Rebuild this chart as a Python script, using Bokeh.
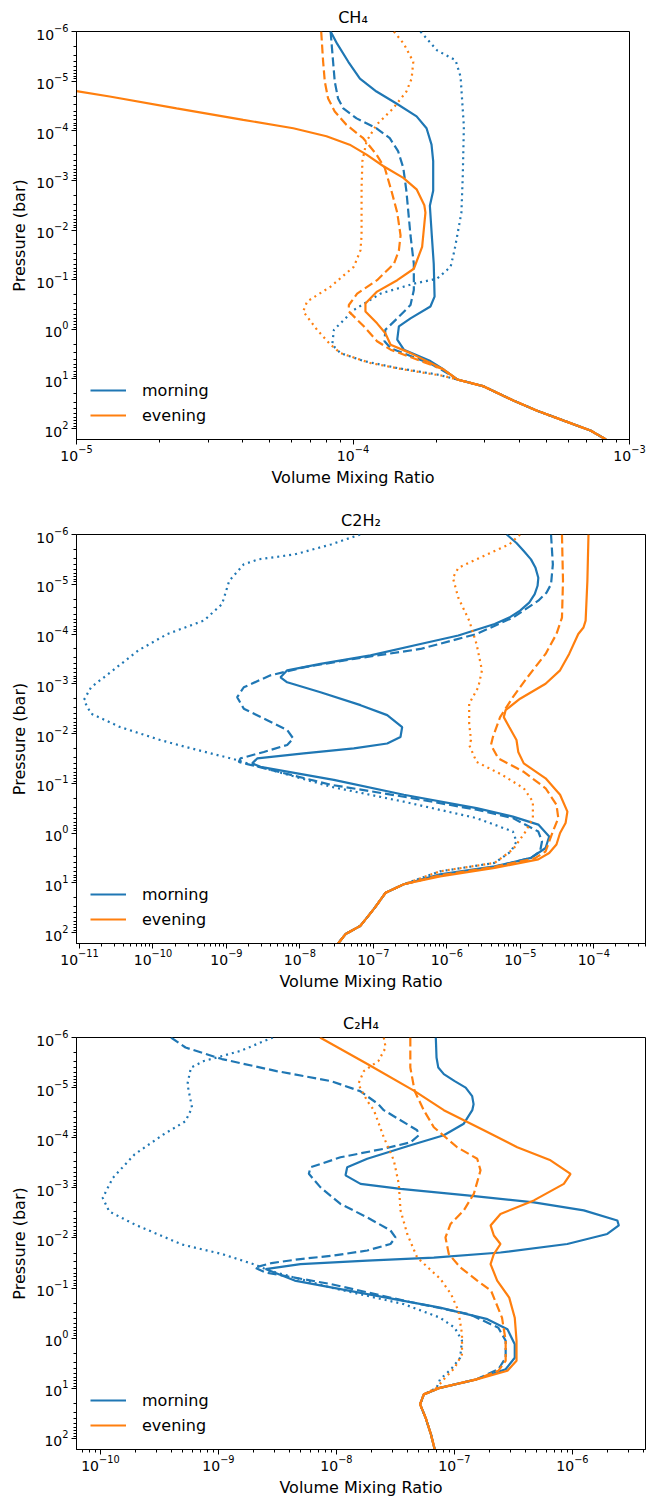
import numpy as np
from bokeh.plotting import figure
from bokeh.models import Range1d, FixedTicker, LogTickFormatter
from bokeh.layouts import column
from bokeh.embed import file_html
from bokeh.resources import INLINE

# ---------------- data (log10 pressure [bar], log10 volume mixing ratio) ----------------
# CH4
ch4_morning_solid_logp = [-6.0, -5.75, -5.39, -5.05, -4.79, -4.55, -4.29, -4.05, -3.72, -3.39, -2.79, -2.49, -1.89, -1.32, -0.66, -0.46, -0.22, -0.06, 0.21, 0.41, 0.64, 0.81]
ch4_morning_solid_logx = [-4.081, -4.057, -4.017, -3.975, -3.915, -3.843, -3.77, -3.734, -3.716, -3.71, -3.71, -3.722, -3.715, -3.708, -3.705, -3.72, -3.792, -3.834, -3.84, -3.816, -3.72, -3.672]
ch4_morning_dashed_logp = [-6.0, -5.39, -4.99, -4.65, -4.45, -4.25, -4.05, -3.85, -3.59, -3.25, -2.79, -1.89, -1.32, -0.79, -0.49, -0.22, 0.01, 0.24, 0.38, 0.68, 0.83]
ch4_morning_dashed_logx = [-4.081, -4.072, -4.066, -4.054, -4.035, -3.987, -3.915, -3.867, -3.837, -3.818, -3.807, -3.792, -3.78, -3.78, -3.792, -3.84, -3.883, -3.886, -3.864, -3.725, -3.675]
ch4_morning_dotted_logp = [-6.0, -5.62, -5.42, -5.09, -4.09, -3.09, -2.35, -1.89, -1.59, -1.26, -1.02, -0.92, -0.72, -0.39, 0.01, 0.31, 0.48, 0.64, 0.78, 0.91]
ch4_morning_dotted_logx = [-3.756, -3.696, -3.629, -3.611, -3.599, -3.603, -3.608, -3.623, -3.633, -3.647, -3.696, -3.78, -3.90, -3.997, -4.069, -4.075, -4.045, -3.961, -3.84, -3.696]
ch4_evening_solid_logp = [-4.80, -4.69, -4.45, -4.22, -4.05, -3.89, -3.72, -3.52, -3.29, -3.05, -2.82, -2.50, -2.35, -1.89, -1.66, -1.22, -0.99, -0.76, -0.52, -0.36, -0.12, 0.08, 0.31, 0.48, 0.81]
ch4_evening_solid_logx = [-5.0, -4.88, -4.638, -4.397, -4.216, -4.096, -4.012, -3.951, -3.891, -3.818, -3.77, -3.742, -3.738, -3.746, -3.75, -3.78, -3.84, -3.913, -3.955, -3.955, -3.913, -3.883, -3.864, -3.792, -3.672]
ch4_evening_dashed_logp = [-6.0, -5.39, -4.99, -4.65, -4.39, -4.12, -3.85, -3.52, -3.25, -2.79, -2.35, -1.89, -1.59, -1.32, -0.99, -0.72, -0.49, -0.36, -0.06, 0.24, 0.41, 0.81]
ch4_evening_dashed_logx = [-4.115, -4.108, -4.102, -4.09, -4.066, -4.024, -3.963, -3.915, -3.885, -3.861, -3.84, -3.828, -3.834, -3.852, -3.913, -3.985, -4.015, -4.015, -3.961, -3.913, -3.864, -3.672]
ch4_evening_dotted_logp = [-6.0, -5.75, -5.39, -5.05, -4.79, -4.45, -4.12, -3.79, -3.39, -2.85, -1.89, -1.59, -1.26, -0.86, -0.56, -0.36, 0.01, 0.31, 0.48, 0.68, 0.81, 0.94]
ch4_evening_dotted_logx = [-3.852, -3.816, -3.782, -3.788, -3.807, -3.855, -3.915, -3.951, -3.966, -3.969, -3.969, -3.973, -3.997, -4.081, -4.166, -4.18, -4.13, -4.081, -4.045, -3.937, -3.816, -3.672]
ch4_deep_logp = [1.01, 1.15, 1.44, 1.64, 1.84, 2.04, 2.22]
ch4_deep_logx = [-3.623, -3.527, -3.418, -3.334, -3.238, -3.141, -3.085]

# C2H2
c2h2_morning_solid_logp = [-6.0, -5.83, -5.67, -5.5, -5.33, -5.13, -4.97, -4.80, -4.63, -4.47, -4.33, -4.20, -3.97, -3.80, -3.57, -3.40, -3.27, -3.13, -3.03, -2.83, -2.57, -2.37, -2.13, -1.93, -1.80, -1.70, -1.60, -1.50, -1.40, -1.33, -1.07, -0.77, -0.50, -0.33, -0.17, 0.07, 0.30, 0.50, 0.67, 0.83]
c2h2_morning_solid_logx = [-5.185, -5.052, -4.953, -4.855, -4.793, -4.755, -4.765, -4.804, -4.879, -5.003, -5.151, -5.349, -5.844, -6.359, -7.039, -7.72, -8.173, -8.264, -8.173, -7.72, -7.175, -6.812, -6.608, -6.631, -6.812, -7.266, -7.947, -8.581, -8.649, -8.536, -7.539, -6.586, -5.596, -5.101, -4.755, -4.607, -4.656, -4.855, -5.349, -6.092]
c2h2_morning_dashed_logp = [-6.0, -5.40, -5.0, -4.83, -4.67, -4.33, -4.0, -3.70, -3.50, -3.33, -3.17, -2.93, -2.73, -2.50, -2.30, -2.07, -1.90, -1.77, -1.63, -1.50, -1.43, -1.37, -0.97, -0.73, -0.47, -0.30, -0.03, 0.17, 0.37, 0.50, 0.68, 0.85]
c2h2_morning_dashed_logx = [-4.582, -4.557, -4.582, -4.644, -4.755, -5.101, -5.596, -6.359, -7.266, -7.947, -8.40, -8.764, -8.854, -8.764, -8.491, -8.173, -8.091, -8.173, -8.491, -8.809, -8.832, -8.673, -7.577, -6.586, -5.596, -5.101, -4.755, -4.705, -4.731, -4.855, -5.349, -6.092]
c2h2_morning_dotted_logp = [-6.0, -5.8, -5.6, -5.5, -5.4, -5.07, -4.6, -4.27, -4.0, -3.67, -3.27, -2.93, -2.67, -2.40, -2.13, -1.87, -1.73, -1.47, -1.40, -0.93, -0.63, -0.30, -0.03, 0.17, 0.37, 0.60, 0.77]
c2h2_morning_dotted_logx = [-7.181, -7.577, -8.071, -8.566, -8.764, -8.962, -9.06, -9.308, -9.804, -10.2, -10.545, -10.843, -10.941, -10.843, -10.447, -9.903, -9.556, -8.863, -8.715, -7.577, -6.586, -5.596, -5.101, -5.052, -5.127, -5.349, -6.092]
c2h2_evening_solid_logp = [-6.0, -5.07, -4.27, -4.13, -4.0, -3.6, -3.27, -3.0, -2.70, -2.47, -2.33, -2.13, -1.87, -1.63, -1.40, -1.10, -0.77, -0.43, -0.20, 0.0, 0.23, 0.40, 0.53, 0.70, 0.87]
c2h2_evening_solid_logx = [-4.072, -4.087, -4.111, -4.14, -4.211, -4.335, -4.459, -4.656, -5.003, -5.2, -5.225, -5.151, -5.052, -5.028, -4.953, -4.656, -4.459, -4.359, -4.384, -4.459, -4.508, -4.607, -4.755, -5.349, -6.092]
c2h2_evening_dashed_logp = [-6.0, -5.07, -4.33, -4.0, -3.6, -3.13, -2.73, -2.33, -1.93, -1.77, -1.5, -1.23, -0.9, -0.57, -0.3, -0.03, 0.17, 0.37, 0.51, 0.68, 0.85]
c2h2_evening_dashed_logx = [-4.433, -4.419, -4.433, -4.508, -4.656, -4.904, -5.101, -5.275, -5.373, -5.399, -5.3, -4.953, -4.656, -4.508, -4.483, -4.557, -4.607, -4.656, -4.804, -5.349, -6.092]
c2h2_evening_dotted_logp = [-6.0, -5.8, -5.57, -5.33, -5.13, -4.73, -4.27, -3.8, -3.27, -2.93, -2.6, -2.2, -1.87, -1.77, -1.43, -1.17, -0.9, -0.63, -0.3, -0.03, 0.23, 0.33, 0.6, 0.77]
c2h2_evening_dotted_logx = [-5.003, -5.151, -5.497, -5.844, -5.918, -5.844, -5.696, -5.596, -5.522, -5.572, -5.696, -5.696, -5.671, -5.696, -5.596, -5.249, -4.953, -4.829, -4.829, -4.928, -5.052, -5.101, -5.349, -6.092]
c2h2_deep_logp = [1.03, 1.20, 1.50, 1.65, 1.87, 2.03, 2.22]
c2h2_deep_logx = [-6.586, -6.834, -6.98, -7.06, -7.181, -7.378, -7.48]

# C2H4
c2h4_morning_solid_logp = [-6.0, -5.6, -5.4, -5.27, -5.13, -5.0, -4.83, -4.67, -4.55, -4.28, -4.05, -3.85, -3.58, -3.41, -3.25, -3.08, -2.98, -2.85, -2.71, -2.55, -2.35, -2.25, -2.08, -1.88, -1.71, -1.61, -1.55, -1.48, -1.38, -1.15, -0.88, -0.61, -0.38, -0.18, 0.12, 0.39, 0.62, 0.82, 0.99]
c2h4_morning_solid_logx = [-7.158, -7.152, -7.137, -7.09, -6.998, -6.905, -6.85, -6.838, -6.849, -6.921, -7.09, -7.372, -7.739, -7.909, -7.923, -7.796, -7.457, -6.892, -6.327, -5.904, -5.62, -5.607, -5.705, -6.044, -6.61, -7.175, -7.739, -8.305, -8.601, -8.354, -7.738, -7.122, -6.721, -6.551, -6.489, -6.489, -6.566, -6.813, -7.122]
c2h4_morning_dashed_logp = [-6.0, -5.8, -5.57, -5.33, -5.13, -4.93, -4.67, -4.55, -4.15, -4.05, -3.91, -3.78, -3.61, -3.41, -3.28, -3.01, -2.68, -2.41, -2.15, -2.01, -1.88, -1.75, -1.65, -1.58, -1.50, -1.41, -1.31, -1.08, -0.75, -0.48, -0.21, 0.05, 0.39, 0.62, 0.82, 0.99]
c2h4_morning_dashed_logx = [-9.402, -9.279, -8.97, -8.508, -8.046, -7.8, -7.645, -7.599, -7.316, -7.302, -7.372, -7.599, -7.966, -8.22, -8.234, -8.135, -7.966, -7.739, -7.542, -7.5, -7.542, -7.739, -8.023, -8.305, -8.55, -8.693, -8.601, -8.046, -7.429, -6.875, -6.628, -6.566, -6.566, -6.628, -6.813, -7.122]
c2h4_morning_dotted_logp = [-6.0, -5.73, -5.53, -5.4, -5.07, -4.6, -4.33, -4.07, -3.67, -3.2, -2.8, -2.53, -2.27, -1.87, -1.68, -1.47, -1.35, -1.01, -0.68, -0.41, -0.21, 0.05, 0.39, 0.62, 0.82, 0.99]
c2h4_morning_dotted_logx = [-8.539, -8.817, -9.124, -9.233, -9.263, -9.224, -9.279, -9.463, -9.71, -9.895, -9.981, -9.926, -9.71, -9.309, -8.97, -8.693, -8.57, -8.046, -7.429, -7.122, -6.998, -6.936, -6.952, -7.029, -7.122, -7.152]
c2h4_evening_solid_logp = [-6.0, -5.47, -4.93, -4.55, -4.15, -3.81, -3.55, -3.28, -3.08, -2.75, -2.48, -2.25, -2.05, -1.88, -1.68, -1.48, -1.15, -0.81, -0.41, 0.05, 0.45, 0.65, 0.82, 0.99]
c2h4_evening_solid_logx = [-8.139, -7.738, -7.337, -7.09, -6.751, -6.468, -6.186, -6.016, -6.073, -6.327, -6.61, -6.694, -6.666, -6.61, -6.666, -6.694, -6.638, -6.536, -6.489, -6.474, -6.474, -6.551, -6.813, -7.122]
c2h4_evening_dashed_logp = [-6.0, -5.4, -4.93, -4.55, -4.21, -3.81, -3.58, -3.35, -2.88, -2.55, -2.28, -2.01, -1.68, -1.41, -1.15, -0.95, -0.41, 0.05, 0.45, 0.65, 0.82, 0.99]
c2h4_evening_dashed_logx = [-7.374, -7.374, -7.337, -7.26, -7.175, -6.977, -6.807, -6.779, -6.836, -6.921, -7.033, -7.076, -7.048, -6.949, -6.807, -6.69, -6.597, -6.566, -6.566, -6.628, -6.813, -7.122]
c2h4_evening_dotted_logp = [-6.0, -5.8, -5.53, -5.33, -5.07, -4.73, -4.55, -4.01, -3.55, -3.08, -2.55, -2.08, -1.61, -1.18, -0.88, -0.55, -0.08, 0.32, 0.59, 0.82, 0.99]
c2h4_evening_dotted_logx = [-7.599, -7.583, -7.645, -7.768, -7.815, -7.738, -7.683, -7.599, -7.514, -7.472, -7.457, -7.4, -7.316, -7.118, -7.029, -6.967, -6.936, -6.936, -6.998, -7.09, -7.152]
c2h4_deep_logp = [1.12, 1.32, 1.59, 1.92, 2.22]
c2h4_deep_logx = [-7.26, -7.291, -7.244, -7.199, -7.167]

panel_titles = ["CH\u2084", "C2H\u2082", "C\u2082H\u2084"]
x_label = "Volume Mixing Ratio"
y_label = "Pressure (bar)"
legend_labels = ["morning", "evening"]

# ---------------- styling ----------------
BLUE = "#1f77b4"
ORANGE = "#ff7f0e"
FONT = "DejaVu Sans"
DASHES = {"solid": "solid", "dashed": "9 4", "dotted": "2 4"}


def decade_ticks(lo, hi):
    return [10.0 ** e for e in range(lo, hi + 1)]


def minor_ticks(lo, hi, vmin, vmax):
    out = [m * 10.0 ** e for e in range(lo, hi + 1) for m in range(2, 10)]
    return [t for t in out if vmin <= t <= vmax]


def make_panel(title, x_start, x_end, major_lo, major_hi, height, b_right, b_bottom, curves, deep):
    y_bottom = 10 ** 2.22
    p = figure(width=646, height=height, x_axis_type="log", y_axis_type="log",
               x_range=Range1d(x_start, x_end), y_range=Range1d(y_bottom, 1e-6),
               output_backend="svg", toolbar_location=None,
               min_border_left=76, min_border_right=b_right, min_border_top=29,
               min_border_bottom=b_bottom, title=title)
    p.frame_align = False
    p.title.align = "center"
    p.title.text_font = FONT
    p.title.text_font_size = "16px"
    p.title.text_font_style = "normal"
    p.title.text_color = "black"
    p.title.standoff = 10
    p.xgrid.visible = False
    p.ygrid.visible = False
    p.outline_line_color = "black"
    p.outline_line_width = 1
    p.outline_line_alpha = 1
    p.background_fill_color = "white"
    p.border_fill_color = "white"

    p.xaxis.ticker = FixedTicker(ticks=decade_ticks(major_lo, major_hi),
                                 minor_ticks=minor_ticks(major_lo - 1, major_hi, x_start, x_end))
    p.yaxis.ticker = FixedTicker(ticks=decade_ticks(-6, 2),
                                 minor_ticks=minor_ticks(-6, 2, 1e-6, y_bottom))
    for ax in (p.xaxis, p.yaxis):
        ax.formatter = LogTickFormatter()
        ax.major_label_text_font = FONT
        ax.major_label_text_font_size = "14px"
        ax.major_label_text_color = "black"
        ax.axis_label_text_font = FONT
        ax.axis_label_text_font_size = "16px"
        ax.axis_label_text_font_style = "normal"
        ax.axis_label_text_color = "black"
        ax.axis_line_color = "black"
        ax.major_tick_line_color = "black"
        ax.minor_tick_line_color = "black"
        ax.major_tick_in = 0
        ax.major_tick_out = 5
        ax.minor_tick_in = 0
        ax.minor_tick_out = 3
        ax.axis_label_standoff = 4
    p.xaxis.major_label_standoff = 0
    p.yaxis.major_label_standoff = 3
    p.xaxis.axis_label = x_label
    p.yaxis.axis_label = y_label

    for color, label, group in zip([BLUE, ORANGE], legend_labels, curves):
        for style, (lp, lx) in group.items():
            lps = list(lp) + list(deep[0])
            lxs = list(lx) + list(deep[1])
            kw = dict(line_color=color, line_width=2.2, line_dash=DASHES[style], line_cap="butt")
            if style == "solid":
                kw["legend_label"] = label
            p.line(np.power(10.0, lxs), np.power(10.0, lps), **kw)

    lg = p.legend[0]
    lg.location = "bottom_left"
    lg.border_line_alpha = 0
    lg.background_fill_alpha = 0
    lg.label_text_font = FONT
    lg.label_text_font_size = "16px"
    lg.label_text_color = "black"
    lg.glyph_width = 36
    lg.glyph_height = 20
    lg.label_standoff = 16
    lg.spacing = 5
    lg.margin = 8
    lg.padding = 6
    return p


p1 = make_panel(panel_titles[0], 1e-5, 1e-3, -5, -3, 503, 17, 64,
                [{"solid": (ch4_morning_solid_logp, ch4_morning_solid_logx),
                  "dashed": (ch4_morning_dashed_logp, ch4_morning_dashed_logx),
                  "dotted": (ch4_morning_dotted_logp, ch4_morning_dotted_logx)},
                 {"solid": (ch4_evening_solid_logp, ch4_evening_solid_logx),
                  "dashed": (ch4_evening_dashed_logp, ch4_evening_dashed_logx),
                  "dotted": (ch4_evening_dotted_logp, ch4_evening_dotted_logx)}],
                (ch4_deep_logp, ch4_deep_logx))

p2 = make_panel(panel_titles[1], 10 ** -11.041, 10 ** -3.296, -11, -4, 503, 1, 63,
                [{"solid": (c2h2_morning_solid_logp, c2h2_morning_solid_logx),
                  "dashed": (c2h2_morning_dashed_logp, c2h2_morning_dashed_logx),
                  "dotted": (c2h2_morning_dotted_logp, c2h2_morning_dotted_logx)},
                 {"solid": (c2h2_evening_solid_logp, c2h2_evening_solid_logx),
                  "dashed": (c2h2_evening_dashed_logp, c2h2_evening_dashed_logx),
                  "dotted": (c2h2_evening_dotted_logp, c2h2_evening_dotted_logx)}],
                (c2h2_deep_logp, c2h2_deep_logx))

p3 = make_panel(panel_titles[2], 10 ** -10.203, 10 ** -5.381, -10, -6, 493, 1, 50,
                [{"solid": (c2h4_morning_solid_logp, c2h4_morning_solid_logx),
                  "dashed": (c2h4_morning_dashed_logp, c2h4_morning_dashed_logx),
                  "dotted": (c2h4_morning_dotted_logp, c2h4_morning_dotted_logx)},
                 {"solid": (c2h4_evening_solid_logp, c2h4_evening_solid_logx),
                  "dashed": (c2h4_evening_dashed_logp, c2h4_evening_dashed_logx),
                  "dotted": (c2h4_evening_dotted_logp, c2h4_evening_dotted_logx)}],
                (c2h4_deep_logp, c2h4_deep_logx))

layout = column(p1, p2, p3, spacing=0)
open("out.html", "w").write(file_html(layout, INLINE))
